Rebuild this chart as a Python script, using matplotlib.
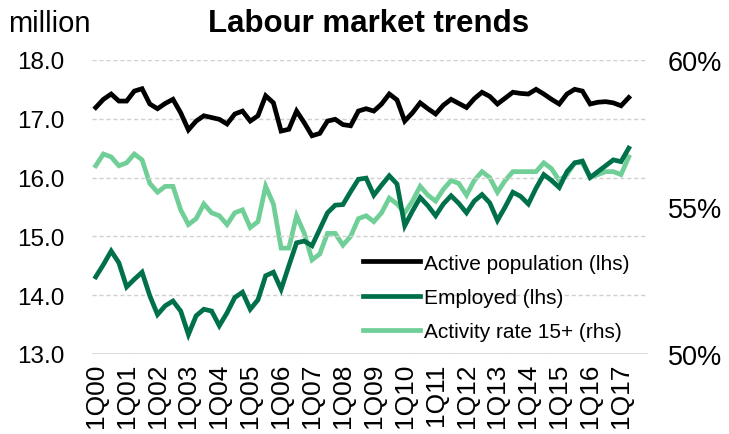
import matplotlib
matplotlib.use("Agg")
import matplotlib.pyplot as plt
import numpy as np

plt.rcParams['font.family'] = ['Liberation Sans', 'DejaVu Sans']

# quarterly data, 1Q00 .. 2Q17
active_pop = [17.19, 17.33, 17.42, 17.30, 17.30, 17.47, 17.51, 17.25, 17.17, 17.26,
              17.33, 17.10, 16.81, 16.96, 17.05, 17.02, 16.99, 16.91, 17.08, 17.13,
              16.96, 17.05, 17.39, 17.27, 16.79, 16.82, 17.13, 16.93, 16.71, 16.75,
              16.96, 16.99, 16.90, 16.88, 17.13, 17.17, 17.13, 17.25, 17.42, 17.32,
              16.96, 17.10, 17.27, 17.17, 17.08, 17.23, 17.33, 17.26, 17.19, 17.34,
              17.45, 17.38, 17.25, 17.35, 17.45, 17.43, 17.42, 17.50, 17.42, 17.33,
              17.25, 17.42, 17.50, 17.47, 17.25, 17.28, 17.29, 17.27, 17.22, 17.36]
employed = [14.31, 14.52, 14.75, 14.55, 14.14, 14.27, 14.39, 13.99, 13.67, 13.82,
            13.90, 13.73, 13.33, 13.65, 13.76, 13.73, 13.48, 13.70, 13.96, 14.05,
            13.76, 13.92, 14.33, 14.39, 14.10, 14.50, 14.89, 14.92, 14.84, 15.12,
            15.40, 15.53, 15.54, 15.76, 15.97, 15.99, 15.70, 15.87, 16.03, 15.89,
            15.18, 15.43, 15.66, 15.52, 15.35, 15.55, 15.69, 15.56, 15.40, 15.60,
            15.71, 15.57, 15.27, 15.50, 15.75, 15.68, 15.55, 15.82, 16.05, 15.95,
            15.83, 16.10, 16.25, 16.28, 16.00, 16.10, 16.20, 16.30, 16.27, 16.50]
activity_rate = [56.4, 56.8, 56.7, 56.4, 56.5, 56.8, 56.6, 55.8, 55.5, 55.7,
                 55.7, 54.9, 54.4, 54.6, 55.1, 54.8, 54.7, 54.4, 54.8, 54.9,
                 54.3, 54.5, 55.7, 55.1, 53.6, 53.6, 54.7, 54.1, 53.2, 53.4,
                 54.1, 54.1, 53.7, 54.0, 54.6, 54.7, 54.5, 54.8, 55.3, 55.1,
                 54.8, 55.2, 55.7, 55.4, 55.2, 55.6, 55.9, 55.8, 55.4, 55.9,
                 56.2, 56.0, 55.5, 55.9, 56.2, 56.2, 56.2, 56.2, 56.5, 56.3,
                 55.9, 56.1, 56.5, 56.5, 56.0, 56.1, 56.2, 56.2, 56.1, 56.7]
year_labels = ["1Q00", "1Q01", "1Q02", "1Q03", "1Q04", "1Q05", "1Q06", "1Q07", "1Q08",
               "1Q09", "1Q10", "1Q11", "1Q12", "1Q13", "1Q14", "1Q15", "1Q16", "1Q17"]
n_slots = 72  # axis runs to 4Q17

BLACK = "#000000"
DARK_GREEN = "#00704a"
LIGHT_GREEN = "#70cf97"

fig = plt.figure(figsize=(7.29, 4.35), dpi=100)
ax = fig.add_axes([0.126, 0.184, 0.763, 0.676])
ax2 = ax.twinx()

x = np.arange(len(active_pop))
l1, = ax.plot(x, active_pop, color=BLACK, lw=3.4, solid_joinstyle='miter')
l2, = ax.plot(x, employed, color=DARK_GREEN, lw=3.4, solid_joinstyle='miter')
l3, = ax2.plot(x, activity_rate, color=LIGHT_GREEN, lw=3.4, solid_joinstyle='miter')
ax.set_zorder(ax2.get_zorder() + 1)
ax.patch.set_visible(False)

ax.set_xlim(-0.5, n_slots - 0.5)
ax.set_ylim(13, 18)
ax.set_yticks([13, 14, 15, 16, 17, 18])
ax.set_yticklabels(["13.0", "14.0", "15.0", "16.0", "17.0", "18.0"])
ax2.set_ylim(50, 60)
ax2.set_yticks([50, 55, 60])
ax2.set_yticklabels(["50%", "55%", "60%"])

ax.set_xticks(np.arange(0, 4 * len(year_labels), 4))
ax.set_xticklabels(year_labels, rotation=90)

ax.grid(axis='y', color='#d0d0d0', lw=1, linestyle=(0, (3, 2)))
for a in (ax, ax2):
    for s in ('top', 'left', 'right', 'bottom'):
        a.spines[s].set_visible(False)
ax.axhline(13, color='#d9d9d9', lw=2, zorder=1)

ax.tick_params(axis='y', length=0, labelsize=17.5, pad=20)
ax.tick_params(axis='x', length=0, labelsize=19, pad=6)
ax2.tick_params(axis='y', length=0, labelsize=19.5, pad=14)

fig.text(0.011, 0.945, "million", fontsize=21, ha='left', va='center')
fig.text(0.505, 0.945, "Labour market trends", fontsize=22.5, fontweight='bold',
         ha='center', va='center')

ax.legend([l1, l2, l3],
          ["Active population (lhs)", "Employed (lhs)", "Activity rate 15+ (rhs)"],
          loc='lower right', bbox_to_anchor=(1.0, -0.021), frameon=False,
          fontsize=15, handlelength=2.7, handletextpad=0.2, labelspacing=0.74)

fig.savefig("out.png", dpi=100)
